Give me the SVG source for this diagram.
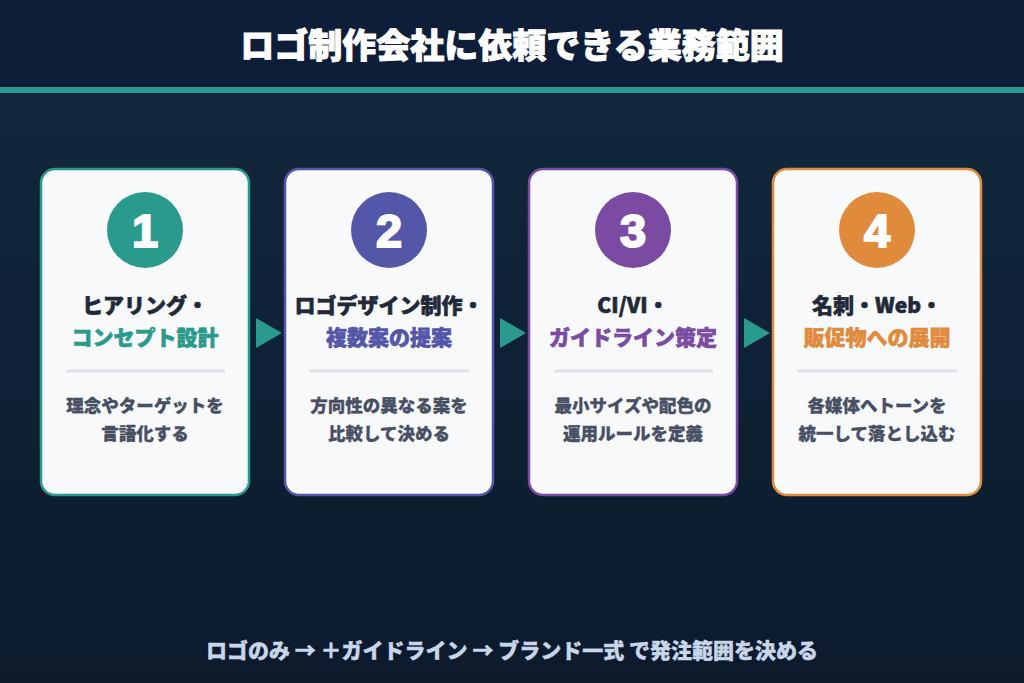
<svg xmlns="http://www.w3.org/2000/svg" width="1024" height="683" viewBox="0 0 1024 683">
<defs>
<linearGradient id="bg" x1="0" y1="0" x2="0" y2="1">
<stop offset="0" stop-color="#132a3e"/>
<stop offset="1" stop-color="#0c1a2c"/>
</linearGradient>
<style>
text{font-family:"Noto Sans CJK JP","Noto Sans",sans-serif;font-weight:900;text-anchor:middle}
.card{fill:#f7f9fb;stroke-width:2.5}
.num{fill:#fff;font-family:"Liberation Sans","Noto Sans",sans-serif;font-weight:700;font-size:47px;stroke:#fff;stroke-width:2}
.t1{fill:#1f2937;stroke:#1f2937;font-size:21px;stroke-width:0.6}
.t2{font-size:21px;stroke-width:0.6}
.div{stroke:#dde1e8;stroke-width:3}
.desc{fill:#475063;font-size:17.5px;stroke:#475063;stroke-width:0.3}
.arr{fill:#2a9a8c}
</style>
</defs>
<rect width="1024" height="683" fill="url(#bg)"/>
<rect width="1024" height="88" fill="#0e1d38"/>
<rect y="87" width="1024" height="6" fill="#2a9a8f"/>
<text x="512" y="58" fill="#ffffff" stroke="#ffffff" stroke-width="1" style="font-size:34px">ロゴ制作会社に依頼できる業務範囲</text>

<g id="node1">
<rect class="card" x="41" y="169" width="208" height="326" rx="14" stroke="#2a9a8c"/>
<circle cx="145" cy="230" r="38" fill="#2a9a8c"/>
<text class="num" x="145" y="247">1</text>
<text class="t1" x="145" y="313">ヒアリング・</text>
<text class="t2" x="145" y="345" fill="#2a9a8c" stroke="#2a9a8c">コンセプト設計</text>
<line class="div" x1="66" y1="371" x2="225" y2="371"/>
<text class="desc" x="145" y="412">理念やターゲットを</text>
<text class="desc" x="145" y="440">言語化する</text>
</g>
<g id="node2">
<rect class="card" x="285" y="169" width="208" height="326" rx="14" stroke="#5457a8"/>
<circle cx="389" cy="230" r="38" fill="#5457a8"/>
<text class="num" x="389" y="247">2</text>
<text class="t1" x="389" y="313">ロゴデザイン制作・</text>
<text class="t2" x="389" y="345" fill="#5457a8" stroke="#5457a8">複数案の提案</text>
<line class="div" x1="310" y1="371" x2="469" y2="371"/>
<text class="desc" x="389" y="412">方向性の異なる案を</text>
<text class="desc" x="389" y="440">比較して決める</text>
</g>
<g id="node3">
<rect class="card" x="529" y="169" width="208" height="326" rx="14" stroke="#7b4ba3"/>
<circle cx="633" cy="230" r="38" fill="#7b4ba3"/>
<text class="num" x="633" y="247">3</text>
<text class="t1" x="633" y="313">CI/VI・</text>
<text class="t2" x="633" y="345" fill="#7b4ba3" stroke="#7b4ba3">ガイドライン策定</text>
<line class="div" x1="554" y1="371" x2="713" y2="371"/>
<text class="desc" x="633" y="412">最小サイズや配色の</text>
<text class="desc" x="633" y="440">運用ルールを定義</text>
</g>
<g id="node4">
<rect class="card" x="773" y="169" width="208" height="326" rx="14" stroke="#e08a3c"/>
<circle cx="877" cy="230" r="38" fill="#e08a3c"/>
<text class="num" x="877" y="247">4</text>
<text class="t1" x="877" y="313">名刺・Web・</text>
<text class="t2" x="877" y="345" fill="#e08a3c" stroke="#e08a3c">販促物への展開</text>
<line class="div" x1="798" y1="371" x2="957" y2="371"/>
<text class="desc" x="877" y="412">各媒体へトーンを</text>
<text class="desc" x="877" y="440">統一して落とし込む</text>
</g>
<g id="connectors">
<polygon class="arr" points="256,318 282,333 256,348"/>
<polygon class="arr" points="500,318 526,333 500,348"/>
<polygon class="arr" points="744,318 770,333 744,348"/>
</g>
<text x="512" y="658" fill="#c8d6ea" stroke="#c8d6ea" stroke-width="0.4" style="font-size:21px">ロゴのみ → ＋ガイドライン → ブランド一式 で発注範囲を決める</text>
</svg>
